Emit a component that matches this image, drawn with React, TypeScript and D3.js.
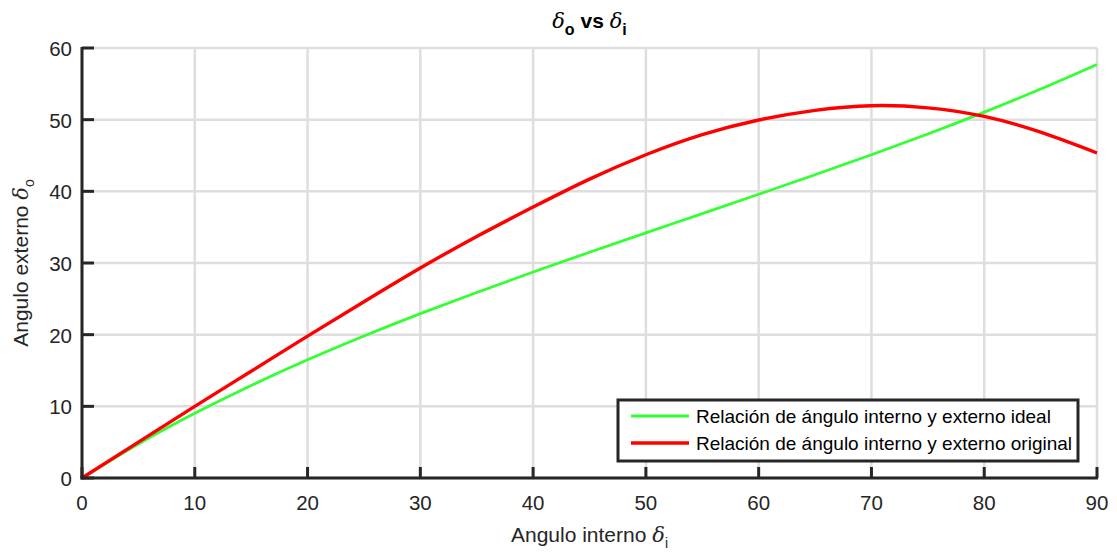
import React from "react";
import * as d3 from "d3";

const deltaI = [0, 5, 10, 15, 20, 25, 30, 35, 40, 45, 50, 55, 60, 65, 70, 75, 80, 85, 90];
const idealDeltaO = [0, 4.74, 9.02, 12.91, 16.49, 19.81, 22.93, 25.89, 28.74, 31.5, 34.21, 36.89, 39.59, 42.32, 45.11, 48.0, 51.05, 54.27, 57.7];
const originalDeltaO = [0, 5.0, 10.0, 14.9, 19.8, 24.6, 29.3, 33.7, 37.8, 41.7, 45.1, 47.9, 49.95, 51.3, 51.95, 51.65, 50.45, 48.25, 45.35];
const xTicks = [0, 10, 20, 30, 40, 50, 60, 70, 80, 90];
const yTicks = [0, 10, 20, 30, 40, 50, 60];
const seriesNames = [
  "Relación de ángulo interno y externo ideal",
  "Relación de ángulo interno y externo original",
];
const seriesColors = ["#33ff33", "#ff0000"];

const W = 1117;
const H = 554;
const M = { left: 82, right: 1097, top: 48, bottom: 478 };
const FONT = "'Liberation Sans', Arial, Helvetica, sans-serif";
const SERIF = "'DejaVu Serif', 'Liberation Serif', serif";
const AX = "#262626";
const GRID = "#dedede";

export default function App() {
  const x = d3.scaleLinear().domain([0, 90]).range([M.left, M.right]);
  const y = d3.scaleLinear().domain([0, 60]).range([M.bottom, M.top]);
  const line = d3
    .line<[number, number]>()
    .x((d) => x(d[0]))
    .y((d) => y(d[1]))
    .curve(d3.curveNatural);
  const ideal = line(deltaI.map((v, i) => [v, idealDeltaO[i]]) as [number, number][]) || "";
  const orig = line(deltaI.map((v, i) => [v, originalDeltaO[i]]) as [number, number][]) || "";

  const legX = 618, legY = 400, legW = 460, legH = 61;

  return (
    <svg
      width={W}
      height={H}
      style={{ position: "absolute", left: 0, top: 0, background: "#fff" }}
      fontFamily={FONT}
    >
      <rect x={0} y={0} width={W} height={H} fill="#fff" />
      {/* grid */}
      {xTicks.map((t) => (
        <line key={"gx" + t} x1={x(t)} x2={x(t)} y1={M.top} y2={M.bottom} stroke={GRID} strokeWidth={2.5} />
      ))}
      {yTicks.map((t) => (
        <line key={"gy" + t} x1={M.left} x2={M.right} y1={y(t)} y2={y(t)} stroke={GRID} strokeWidth={2.5} />
      ))}
      {/* lines */}
      <path d={ideal} fill="none" stroke={seriesColors[0]} strokeWidth={2.8} />
      <path d={orig} fill="none" stroke={seriesColors[1]} strokeWidth={3.4} />
      {/* axes */}
      <line x1={M.left} x2={M.left} y1={M.top - 1} y2={M.bottom + 1.5} stroke={AX} strokeWidth={3} />
      <line x1={M.left - 1.5} x2={M.right + 1} y1={M.bottom} y2={M.bottom} stroke={AX} strokeWidth={3} />
      {xTicks.map((t) => (
        <line key={"tx" + t} x1={x(t)} x2={x(t)} y1={M.bottom} y2={M.bottom - 11} stroke={AX} strokeWidth={3} />
      ))}
      {yTicks.map((t) => (
        <line key={"ty" + t} x1={M.left} x2={M.left + 12} y1={y(t)} y2={y(t)} stroke={AX} strokeWidth={3} />
      ))}
      {xTicks.map((t) => (
        <text key={"lx" + t} x={x(t)} y={510} textAnchor="middle" fontSize={20.5} fill={AX}>
          {t}
        </text>
      ))}
      {yTicks.map((t) => (
        <text key={"ly" + t} x={72} y={y(t) + 8} textAnchor="end" fontSize={20.5} fill={AX}>
          {t}
        </text>
      ))}
      {/* axis labels */}
      <text x={(M.left + M.right) / 2} y={542} textAnchor="middle" fontSize={21} fill={AX}>
        Angulo interno{" "}
        <tspan fontFamily={SERIF} fontStyle="italic">δ</tspan>
        <tspan fontSize={14} dy={6}>i</tspan>
      </text>
      <text
        transform={`translate(28,${(M.top + M.bottom) / 2}) rotate(-90)`}
        textAnchor="middle"
        fontSize={21}
        fill={AX}
      >
        Angulo externo{" "}
        <tspan fontFamily={SERIF} fontStyle="italic">δ</tspan>
        <tspan fontSize={14} dy={6}>o</tspan>
      </text>
      {/* title */}
      <text x={(M.left + M.right) / 2} y={28} textAnchor="middle" fontSize={21} fill="#000" fontWeight="bold">
        <tspan fontFamily={SERIF} fontStyle="italic" fontWeight="normal">δ</tspan>
        <tspan fontSize={16} dy={7}>o</tspan>
        <tspan dy={-7}> vs </tspan>
        <tspan fontFamily={SERIF} fontStyle="italic" fontWeight="normal">δ</tspan>
        <tspan fontSize={16} dy={7}>i</tspan>
      </text>
      {/* legend */}
      <rect x={legX} y={legY} width={legW} height={legH} fill="#fff" stroke={AX} strokeWidth={3} />
      {seriesNames.map((name, i) => (
        <g key={name}>
          <line
            x1={631}
            x2={689}
            y1={416 + i * 27}
            y2={416 + i * 27}
            stroke={seriesColors[i]}
            strokeWidth={i === 0 ? 2.8 : 3.4}
          />
          <text x={696} y={423 + i * 27} fontSize={19} fill="#000">
            {name}
          </text>
        </g>
      ))}
    </svg>
  );
}
